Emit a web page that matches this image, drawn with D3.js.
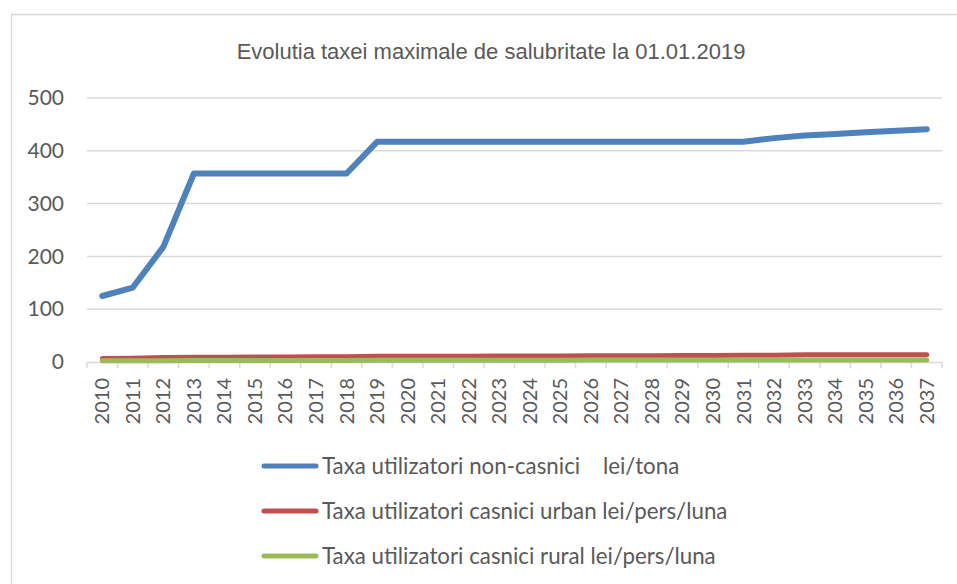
<!DOCTYPE html>
<html>
<head>
<meta charset="utf-8">
<script src="https://cdn.jsdelivr.net/npm/d3@7"></script>
<style>
  body { margin: 0; background: #fff; }
  svg { display: block; }
</style>
</head>
<body>
<svg id="svg1" width="957" height="584"></svg>
<script>
// date
var years = d3.range(2010, 2038).map(String);
var nonCasnici = [125, 141, 218, 357, 357, 357, 357, 357, 357, 417, 417, 417, 417, 417,
                  417, 417, 417, 417, 417, 417, 417, 417, 424, 429, 432, 435, 438, 441];
var casniciUrban = [6.5, 7, 8.5, 9, 9, 9.5, 9.5, 10, 10, 11, 11, 11, 11, 11.5,
                    11.5, 11.5, 12, 12, 12, 12.5, 12.5, 13, 13, 13.5, 13.5, 13.5, 13.5, 13.5];
var casniciRural = [2.5, 2.5, 2.5, 3, 3, 3, 3, 3, 3, 3.5, 3.5, 3.5, 3.5, 3.5,
                    3.5, 3.5, 4, 4, 4, 4, 4, 4, 4, 4, 4, 4, 4, 4];
var yTicks = [0, 100, 200, 300, 400, 500];
var seriesNames = ['Taxa utilizatori non-casnici    lei/tona',
                   'Taxa utilizatori casnici urban lei/pers/luna',
                   'Taxa utilizatori casnici rural lei/pers/luna'];
var seriesColors = ['#4F81BD', '#C0504D', '#9BBB59'];

var series = [nonCasnici, casniciUrban, casniciRural].map(function(v, i) {
    return { name: seriesNames[i], color: seriesColors[i], values: v };
});

var svg = d3.select('#svg1');
var textColor = '#595959';
var bodyFont = 'Lato, "Open Sans", sans-serif';

// chenarul graficului
svg.append('rect')
    .attr('x', 11.5).attr('y', 14.5)
    .attr('width', 1000).attr('height', 1000)
    .attr('fill', 'none')
    .attr('stroke', '#D9D9D9')
    .attr('stroke-width', 1.5);

svg.append('text')
    .attr('x', 491).attr('y', 59)
    .attr('text-anchor', 'middle')
    .attr('fill', textColor)
    .style('font-family', '"Liberation Sans Narrow", "Liberation Sans", sans-serif')
    .style('font-size', '22px')
    .text('Evolutia taxei maximale de salubritate la 01.01.2019');

var x = d3.scaleBand().domain(years).range([87, 942]).padding(0);
var y = d3.scaleLinear().domain([0, 500]).range([362, 98]);

// linii de grila
svg.append('g')
    .selectAll('line')
    .data(yTicks.filter(function(d) { return d > 0; }))
    .enter().append('line')
    .attr('x1', 87).attr('x2', 942)
    .attr('y1', function(d) { return y(d); })
    .attr('y2', function(d) { return y(d); })
    .attr('stroke', '#D9D9D9')
    .attr('stroke-width', 1.5);

// axa Y - doar etichete
var yAxis = svg.append('g')
    .attr('transform', 'translate(87,0)')
    .call(d3.axisLeft(y).tickValues(yTicks).tickSize(0).tickPadding(23));
yAxis.select('.domain').remove();
yAxis.selectAll('text')
    .attr('fill', textColor)
    .style('font-family', bodyFont)
    .style('font-size', '21px');

// axa X
var xAxis = svg.append('g')
    .attr('transform', 'translate(0,' + y(0) + ')')
    .call(d3.axisBottom(x).tickSize(0).tickPadding(0));
xAxis.select('.domain')
    .attr('stroke', '#D9D9D9')
    .attr('stroke-width', 1.5);
xAxis.selectAll('text')
    .attr('transform', 'rotate(-90)')
    .attr('text-anchor', 'end')
    .attr('x', -16)
    .attr('y', 0)
    .attr('dy', '0.35em')
    .attr('fill', textColor)
    .style('font-family', bodyFont)
    .style('font-size', '20px');

// liniutele dintre categorii
svg.append('g')
    .selectAll('line')
    .data(d3.range(years.length + 1))
    .enter().append('line')
    .attr('x1', function(i) { return 87 + i * x.bandwidth(); })
    .attr('x2', function(i) { return 87 + i * x.bandwidth(); })
    .attr('y1', y(0))
    .attr('y2', y(0) + 6)
    .attr('stroke', '#D9D9D9')
    .attr('stroke-width', 1.5);

var line = d3.line()
    .x(function(d, i) { return x(years[i]) + x.bandwidth() / 2; })
    .y(function(d) { return y(d); });

// ordinea de desenare: albastru, rosu, verde (verdele deasupra)
svg.append('g')
    .selectAll('path')
    .data(series)
    .enter().append('path')
    .attr('d', function(s) { return line(s.values); })
    .attr('fill', 'none')
    .attr('stroke', function(s) { return s.color; })
    .attr('stroke-width', function(s, i) { return i === 0 ? 6 : 5; })
    .attr('stroke-linejoin', 'round')
    .attr('stroke-linecap', 'round');

// legenda
var legend = svg.append('g')
    .selectAll('g')
    .data(series)
    .enter().append('g')
    .attr('transform', function(d, i) { return 'translate(0,' + (466 + i * 45) + ')'; });

legend.append('line')
    .attr('x1', 264).attr('x2', 316)
    .attr('stroke', function(d) { return d.color; })
    .attr('stroke-width', 5)
    .attr('stroke-linecap', 'round');

legend.append('text')
    .attr('x', 322)
    .attr('y', 0)
    .attr('dy', '0.35em')
    .attr('fill', textColor)
    .style('font-family', bodyFont)
    .style('font-size', '22.3px')
    .style('white-space', 'pre')
    .text(function(d) { return d.name; });
</script>
</body>
</html>
